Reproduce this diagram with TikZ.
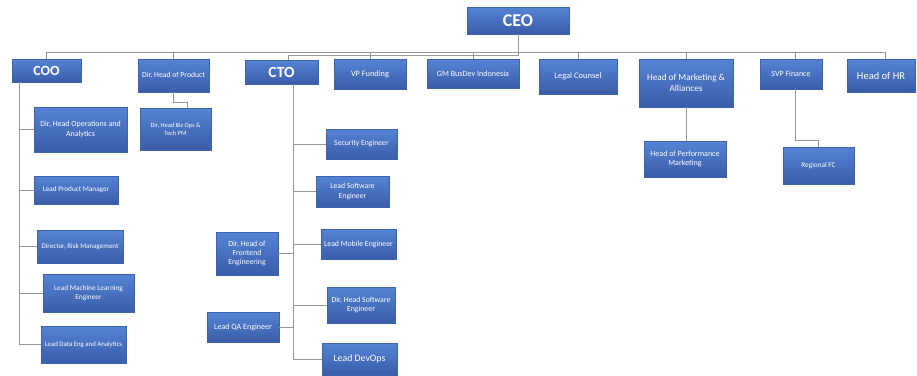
\documentclass[tikz,border=0pt]{standalone}
\usepackage{fontspec}
\setmainfont{Carlito}
\newcommand\fsz[2]{\fontsize{#1}{#2}\selectfont}
\definecolor{boxtop}{HTML}{5584D4}
\definecolor{boxbot}{HTML}{3A5CAA}
\definecolor{boxedge}{HTML}{3F62AE}
\definecolor{linegrey}{HTML}{979797}
\begin{document}
\begin{tikzpicture}[x=1pt,y=-1pt,
  box/.style={draw=boxedge, line width=0.3pt, top color=boxtop, bottom color=boxbot,
    text=white, align=center, inner sep=0.5pt, outer sep=0pt},
  sz/.style 2 args={minimum width=#1pt, minimum height=#2pt},
  link/.style={draw=linegrey, line width=1pt}]
\useasboundingbox (0,0) rectangle (917,375);
\fill[white] (0,0) rectangle (917,375);

% ---- junction points of the connectors
\coordinate (busL) at (46,52);
\coordinate (busR) at (885,52);
\coordinate (bus2) at (288,55);
\coordinate (cooX) at (19,82);
\coordinate (ctoX) at (293,84);
\coordinate (bzj) at (187,102);
\coordinate (rfj) at (795,140);

% ---- boxes: top row
\node[box,sz={102}{27},font=\bfseries\fsz{18}{20}] (CEO) at (518,20.5) {CEO};
\node[box,sz={69}{23},font=\bfseries\fsz{14}{16}] (COO) at (46.5,70.5) {COO};
\node[box,sz={71}{33},font=\fsz{7.7}{9}] (DirProd) at (173.5,75.5) {Dir, Head of Product};
\node[box,sz={73}{24},font=\bfseries\fsz{15.5}{17}] (CTO) at (281.5,72) {CTO};
\node[box,sz={72}{30},font=\fsz{8.3}{9.5}] (VPF) at (370,74) {VP Funding};
\node[box,sz={92}{29},font=\fsz{8.1}{9.5}] (GM) at (473,73.5) {GM BusDev Indonesia};
\node[box,sz={78}{35},font=\fsz{8.5}{10}] (Legal) at (578,76.5) {Legal Counsel};
\node[box,sz={94}{48},font=\fsz{9.2}{11}] (Mkt) at (686,83) {Head of Marketing \&\\Alliances};
\node[box,sz={62}{30},font=\fsz{8}{9.5}] (SVP) at (791,74) {SVP Finance};
\node[box,sz={68}{33},font=\fsz{10.5}{12}] (HR) at (881,75.5) {Head of HR};

% ---- COO column
\node[box,sz={93}{45},font=\fsz{7.9}{9.4}] (OpsAn) at (80.5,129.5) {Dir, Head Operations and\\Analytics};
\node[box,sz={84}{28},font=\fsz{7.2}{8.5}] (LPM) at (76,190) {Lead Product Manager};
\node[box,sz={86}{33},font=\fsz{7}{8.5}] (Risk) at (80,246.5) {Director, Risk Management};
\node[box,sz={91}{38},font=\fsz{7.3}{9}] (ML) at (88.5,293) {Lead Machine Learning\\Engineer};
\node[box,sz={85}{37},font=\fsz{6.8}{8.4}] (DataEng) at (83.5,344.5) {Lead Data Eng and Analytics};

% ---- Product
\node[box,sz={71}{42},font=\fsz{6.4}{7.7}] (BizOps) at (175.5,129) {Dir, Head Biz Ops \&\\Tech PM};

% ---- CTO column
\node[box,sz={71}{30},font=\fsz{7.7}{9}] (Sec) at (361.5,144) {Security Engineer};
\node[box,sz={73}{31},font=\fsz{7.7}{9.3}] (LSE) at (352.5,191.5) {Lead Software\\Engineer};
\node[box,sz={75}{30},font=\fsz{7.8}{9}] (LME) at (358.5,244) {Lead Mobile Engineer};
\node[box,sz={68}{36},font=\fsz{7.8}{9.5}] (DHSE) at (361,305) {Dir, Head Software\\Engineer};
\node[box,sz={75}{32},font=\fsz{9.8}{11.5}] (DevOps) at (359.5,359) {Lead DevOps};
\node[box,sz={62}{43},font=\fsz{7.8}{9.4}] (Front) at (247,253.5) {Dir, Head of\\Frontend\\Engineering};
\node[box,sz={72}{30},font=\fsz{8}{9.3}] (QA) at (243,327) {Lead QA Engineer};

% ---- Marketing / Finance
\node[box,sz={82}{36},font=\fsz{8}{9.6}] (PerfMkt) at (685,159) {Head of Performance\\Marketing};
\node[box,sz={71}{37},font=\fsz{7.3}{8.5}] (RegFC) at (818.5,165.5) {Regional FC};

% ---- connector lines
\draw[link] (busL) -- (busR);
\draw[link] (CEO.south) -- (CEO.south |- bus2) -- (bus2);
\draw[link] (COO.north) -- (COO.north |- busL);
\draw[link] (DirProd.north) -- (DirProd.north |- busL);
\draw[link] (bus2) -- (bus2 |- CTO.north);
\draw[link] (VPF.north) -- (VPF.north |- busL);
\draw[link] (GM.north) -- (GM.north |- busL);
\draw[link] (Legal.north) -- (Legal.north |- busL);
\draw[link] (Mkt.north) -- (Mkt.north |- busL);
\draw[link] (SVP.north -| rfj) -- (rfj |- busL);
\draw[link] (HR.north -| busR) -- (busR);

\draw[link] (cooX) |- (DataEng.west);
\draw[link] (cooX |- OpsAn.west) -- (OpsAn.west);
\draw[link] (cooX |- LPM.west) -- (LPM.west);
\draw[link] (cooX |- Risk.west) -- (Risk.west);
\draw[link] (cooX |- ML.west) -- (ML.west);

\draw[link] (DirProd.south) |- (bzj) -- (bzj |- BizOps.north);

\draw[link] (ctoX) |- (DevOps.west);
\draw[link] (ctoX |- Sec.west) -- (Sec.west);
\draw[link] (ctoX |- LSE.west) -- (LSE.west);
\draw[link] (ctoX |- LME.west) -- (LME.west);
\draw[link] (ctoX |- DHSE.west) -- (DHSE.west);
\draw[link] (ctoX |- Front.east) -- (Front.east);
\draw[link] (ctoX |- QA.east) -- (QA.east);

\draw[link] (Mkt.south) -- (Mkt.south |- PerfMkt.north);
\draw[link] (SVP.south -| rfj) -- (rfj) -| (RegFC.north);
\end{tikzpicture}
\end{document}
